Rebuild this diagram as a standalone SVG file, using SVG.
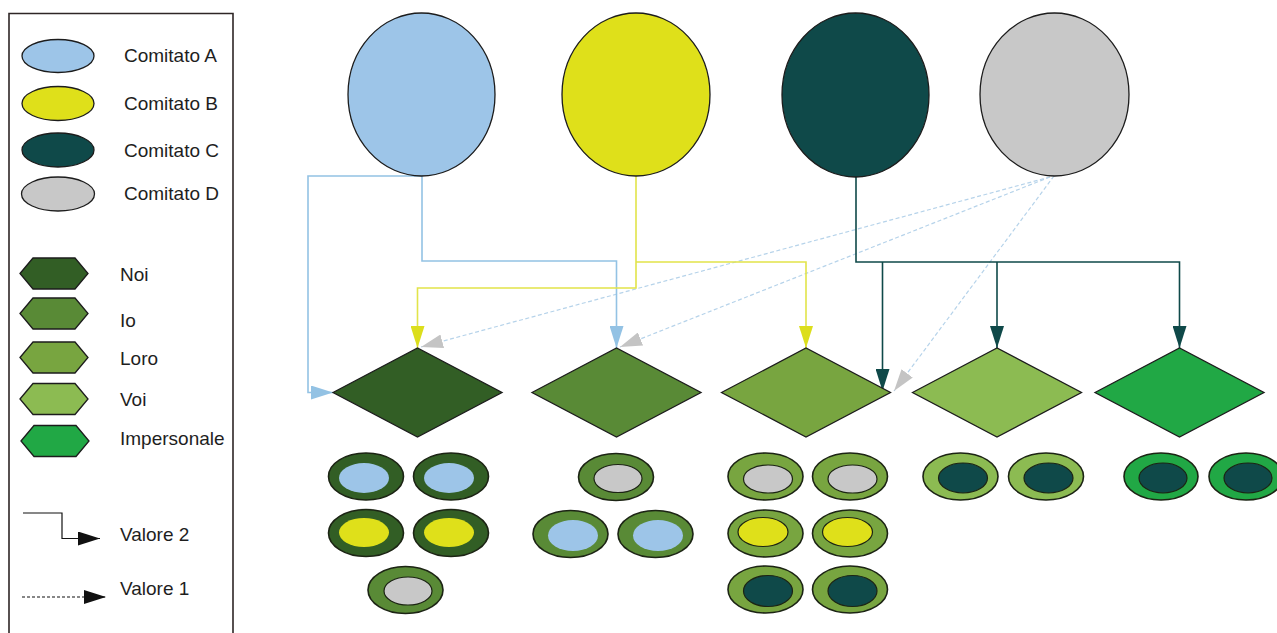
<svg xmlns="http://www.w3.org/2000/svg" width="1277" height="633" viewBox="0 0 1277 633">
<style>
text{font-family:"Liberation Sans",Arial,sans-serif;font-size:19px;fill:#1e1e1e}
.frame{fill:none;stroke:#2e2626;stroke-width:1.6}
.shape{stroke:#1c1c1c;stroke-width:1.3}
.oval{stroke:#1c2414;stroke-width:1.6}
.inner{stroke:#1c2414;stroke-width:1.2}
.inb{stroke:none}
.cA{fill:#9dc5e8}.cB{fill:#dfe01a}.cC{fill:#0f4949}.cD{fill:#c8c8c8}
.noi{fill:#325e25}.io{fill:#598a36}.loro{fill:#78a540}.voi{fill:#8cbb52}.imp{fill:#21a845}
.ln{fill:none;stroke-width:1.6}
.lb{stroke:#93c2e4;marker-end:url(#ab)}
.ly{stroke:#e2e44a;marker-end:url(#ay)}
.lt{stroke:#0f4949;marker-end:url(#at)}
.lg{stroke:#b6d3ea;stroke-width:1.2;stroke-dasharray:4 2.5;marker-end:url(#ag)}
</style>
<defs>
<marker id="ab" markerUnits="userSpaceOnUse" markerWidth="22" markerHeight="14" refX="22" refY="7" orient="auto"><path d="M0,0L22,7L0,14z" fill="#93c2e4"/></marker>
<marker id="ay" markerUnits="userSpaceOnUse" markerWidth="22" markerHeight="14" refX="22" refY="7" orient="auto"><path d="M0,0L22,7L0,14z" fill="#dcde1c"/></marker>
<marker id="at" markerUnits="userSpaceOnUse" markerWidth="22" markerHeight="14" refX="22" refY="7" orient="auto"><path d="M0,0L22,7L0,14z" fill="#0f4949"/></marker>
<marker id="ag" markerUnits="userSpaceOnUse" markerWidth="22" markerHeight="14" refX="22" refY="7" orient="auto"><path d="M0,0L22,7L0,14z" fill="#c4c4c4"/></marker>
<marker id="ak" markerUnits="userSpaceOnUse" markerWidth="22" markerHeight="14" refX="22" refY="7" orient="auto"><path d="M0,0L22,7L0,14z" fill="#111"/></marker>
<polygon id="hex" points="-34,0 -21,-15.5 21,-15.5 34,0 21,15.5 -21,15.5"/>
<polygon id="dia" points="-84.5,0 0,-44.5 84.5,0 0,44.5"/>
</defs>
<rect width="1277" height="633" fill="#fff"/>

<g id="legend">
<path class="frame" d="M9,633V13.5H233V633"/>
<g id="legend-comitati">
<ellipse class="shape cA" cx="58" cy="56" rx="36" ry="16.5"/>
<text x="124" y="62">Comitato A</text>
<ellipse class="shape cB" cx="58" cy="103.5" rx="36" ry="17"/>
<text x="124" y="110">Comitato B</text>
<ellipse class="shape cC" cx="58" cy="150" rx="36" ry="17"/>
<text x="124" y="157">Comitato C</text>
<ellipse class="shape cD" cx="58" cy="194" rx="36.5" ry="17"/>
<text x="124" y="200">Comitato D</text>
</g>
<g id="legend-persone">
<use href="#hex" class="shape noi" x="54" y="273.5"/>
<text x="120" y="281">Noi</text>
<use href="#hex" class="shape io" x="54" y="313.5"/>
<text x="120" y="327">Io</text>
<use href="#hex" class="shape loro" x="54" y="357.5"/>
<text x="120" y="365">Loro</text>
<use href="#hex" class="shape voi" x="54" y="399"/>
<text x="120" y="406">Voi</text>
<use href="#hex" class="shape imp" x="55" y="441"/>
<text x="120" y="445">Impersonale</text>
</g>
<g id="legend-valori">
<path d="M23,513H62V538.5H100" fill="none" stroke="#111" stroke-width="1.2" marker-end="url(#ak)"/>
<text x="120" y="541">Valore 2</text>
<path d="M22,597H106" fill="none" stroke="#111" stroke-width="1.2" stroke-dasharray="3 2" marker-end="url(#ak)"/>
<text x="120" y="595">Valore 1</text>
</g>
</g>

<g id="connectors">
<path class="ln lg" d="M1050,177L421,347"/>
<path class="ln lg" d="M1050,177L620,347"/>
<path class="ln lg" d="M1054,176L894,391"/>
<path class="ln lb" d="M422,176H308V392.5H333"/>
<path class="ln lb" d="M422,176V261H616.5V348"/>
<path class="ln ly" d="M636,176V288H417.5V348"/>
<path class="ln ly" d="M636,262H806V348"/>
<path class="ln lt" d="M856,177V262H1179.5V348"/>
<path class="ln lt" d="M882.5,262V391"/>
<path class="ln lt" d="M997,262V348"/>
</g>

<g id="comitato-A"><ellipse class="shape cA" cx="421.5" cy="94.5" rx="73.5" ry="81.5"/></g>
<g id="comitato-B"><ellipse class="shape cB" cx="636" cy="94.5" rx="74" ry="81.5"/></g>
<g id="comitato-C"><ellipse class="shape cC" cx="855.5" cy="95" rx="73.5" ry="82"/></g>
<g id="comitato-D"><ellipse class="shape cD" cx="1054.5" cy="94.5" rx="74.5" ry="81.5"/></g>

<g id="noi"><use href="#dia" class="shape noi" x="417.5" y="392.5"/></g>
<g id="io"><use href="#dia" class="shape io" x="616.5" y="392.5"/></g>
<g id="loro"><use href="#dia" class="shape loro" x="806" y="392.5"/></g>
<g id="voi"><use href="#dia" class="shape voi" x="997" y="392.5"/></g>
<g id="impersonale"><use href="#dia" class="shape imp" x="1179.5" y="392.5"/></g>

<g id="noi-valori">
<ellipse class="oval noi" cx="366" cy="476.5" rx="37.5" ry="23.5"/><ellipse class="inb cA" cx="364" cy="478" rx="25" ry="15"/>
<ellipse class="oval noi" cx="451" cy="476.5" rx="37.5" ry="23.5"/><ellipse class="inb cA" cx="449" cy="478" rx="25" ry="15"/>
<ellipse class="oval noi" cx="366" cy="533" rx="37.5" ry="23.5"/><ellipse class="inb cB" cx="364" cy="532.5" rx="25" ry="14.5"/>
<ellipse class="oval noi" cx="451" cy="533" rx="37.5" ry="23.5"/><ellipse class="inb cB" cx="449" cy="532.5" rx="25" ry="14.5"/>
<ellipse class="oval io" cx="405.5" cy="590" rx="37.5" ry="23.5"/><ellipse class="inner cD" cx="408" cy="591" rx="24" ry="14"/>
</g>
<g id="io-valori">
<ellipse class="oval io" cx="616" cy="477" rx="37.5" ry="23.5"/><ellipse class="inner cD" cx="618" cy="478.5" rx="24" ry="14"/>
<ellipse class="oval io" cx="570.5" cy="534" rx="37.5" ry="23.5"/><ellipse class="inb cA" cx="573" cy="535.5" rx="25" ry="15.5"/>
<ellipse class="oval io" cx="655.5" cy="534" rx="37.5" ry="23.5"/><ellipse class="inb cA" cx="658" cy="535.5" rx="25" ry="15.5"/>
</g>
<g id="loro-valori">
<ellipse class="oval loro" cx="765.5" cy="476.5" rx="37.5" ry="23.5"/><ellipse class="inner cD" cx="768" cy="479" rx="24.5" ry="14"/>
<ellipse class="oval loro" cx="850" cy="476.5" rx="37.5" ry="23.5"/><ellipse class="inner cD" cx="852.5" cy="479" rx="24.5" ry="14"/>
<ellipse class="oval loro" cx="765.5" cy="533.5" rx="37.5" ry="23.5"/><ellipse class="inner cB" cx="763" cy="532" rx="25" ry="14.5"/>
<ellipse class="oval loro" cx="850" cy="533.5" rx="37.5" ry="23.5"/><ellipse class="inner cB" cx="847.5" cy="532" rx="25" ry="14.5"/>
<ellipse class="oval loro" cx="765.5" cy="589.5" rx="37.5" ry="23.5"/><ellipse class="inner cC" cx="768" cy="591" rx="24.5" ry="15.5"/>
<ellipse class="oval loro" cx="850" cy="589.5" rx="37.5" ry="23.5"/><ellipse class="inner cC" cx="852.5" cy="591" rx="24.5" ry="15.5"/>
</g>
<g id="voi-valori">
<ellipse class="oval voi" cx="960.5" cy="476.5" rx="37.5" ry="23.5"/><ellipse class="inner cC" cx="963" cy="478" rx="24.5" ry="15"/>
<ellipse class="oval voi" cx="1046" cy="476.5" rx="37.5" ry="23.5"/><ellipse class="inner cC" cx="1048.5" cy="478" rx="24.5" ry="15"/>
</g>
<g id="impersonale-valori">
<ellipse class="oval imp" cx="1161" cy="476.5" rx="37" ry="23.5"/><ellipse class="inner cC" cx="1163" cy="478" rx="24" ry="15"/>
<ellipse class="oval imp" cx="1246" cy="476.5" rx="37" ry="23.5"/><ellipse class="inner cC" cx="1248" cy="478" rx="24" ry="15"/>
</g>
</svg>
